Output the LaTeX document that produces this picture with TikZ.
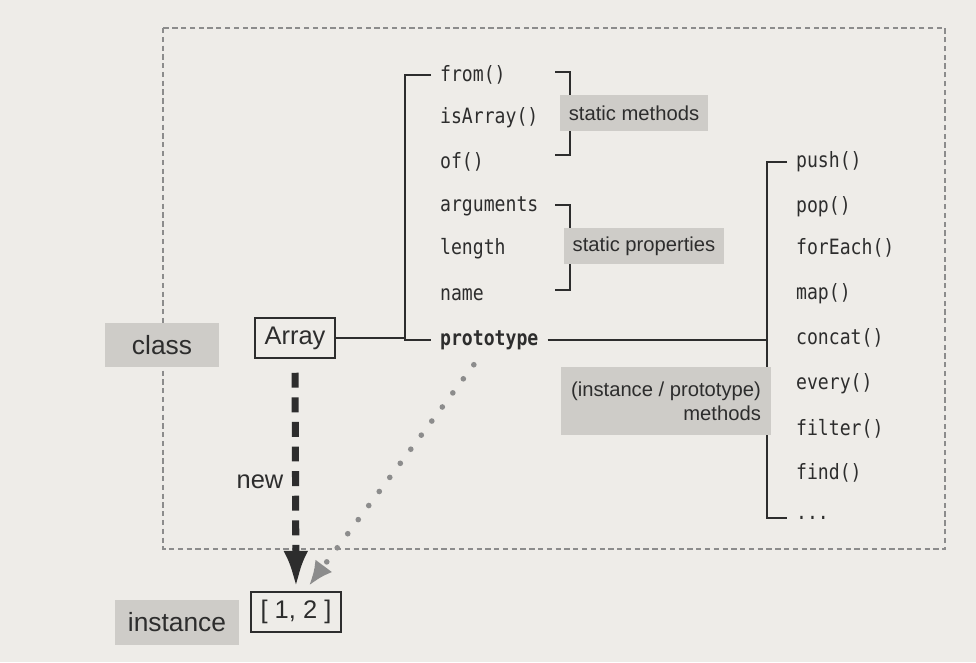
\documentclass[tikz,border=0pt]{standalone}
\usepackage{fontspec}
\setmainfont{Liberation Sans}
\setmonofont[FakeStretch=0.86]{DejaVu Sans Mono}
\usetikzlibrary{arrows.meta,positioning}
\definecolor{paper}{RGB}{238,236,232}
\definecolor{labelgray}{RGB}{206,204,200}
\definecolor{ink}{RGB}{45,45,45}
\definecolor{dotgray}{RGB}{140,140,140}

\begin{document}
\begin{tikzpicture}[
      x=0.02cm, y=-0.02cm,
      member/.style={anchor=west, inner xsep=5pt, inner ysep=2pt, text=ink, font=\fontsize{12}{14}\selectfont\ttfamily},
      tag/.style={fill=labelgray, text=ink, inner xsep=5pt, minimum height=.74cm, font=\fontsize{11.5}{13.5}\selectfont},
      side/.style={fill=labelgray, text=ink, minimum height=.9cm, font=\fontsize{15}{17}\selectfont},
      box/.style={draw=ink, line width=.8pt, text=ink, inner xsep=5.5pt, minimum height=.8cm, font=\fontsize{14.5}{16}\selectfont},
      bracket/.style={draw=ink, line width=.8pt},
      frame/.style={draw=dotgray, line width=.6pt, dash pattern=on 3pt off 2pt}
    ]
      \fill[paper] (0,0) rectangle (976,662);
      \useasboundingbox (0,0) rectangle (976,662);
      \draw[frame] (163,28) rectangle (945,549);

      % class side
      \node[side, minimum width=2.3cm] (classlbl) at (162,345) {class};
      \node[box] (arr) at (295,338) {Array};

      % static members
      \node[member] (from) at (431,75) {from()};
      \node[member] (isarray) at (431,118) {isArray()};
      \node[member] (of) at (431,162) {of()};
      \node[member] (args) at (431,206) {arguments};
      \node[member] (len) at (431,249) {length};
      \node[member] (name) at (431,295) {name};
      \node[member, font=\fontsize{12}{14}\selectfont\ttfamily\bfseries] (proto) at (431,340) {prototype};

      % prototype members
      \node[member] (push) at (787,162) {push()};
      \node[member] (pop) at (787,207) {pop()};
      \node[member] (foreach) at (787,248) {forEach()};
      \node[member] (map) at (787,294) {map()};
      \node[member] (concat) at (787,338) {concat()};
      \node[member] (every) at (787,384) {every()};
      \node[member] (filter) at (787,429) {filter()};
      \node[member] (find) at (787,473) {find()};
      \node[member] (more) at (787,518) {...};

      % brackets
      \coordinate (lbr) at (405,0);
      \coordinate (rbr) at (767,0);
      \draw[bracket] (arr.east) -- (arr.east -| lbr);
      \draw[bracket] (from.west) -- (from.west -| lbr) |- (proto.west);
      \draw[bracket] (555,72) -| (570,155) -- (555,155);
      \draw[bracket] (555,205) -| (570,290) -- (555,290);
      \draw[bracket] (proto.east) -- (proto.east -| rbr);
      \draw[bracket] (push.west) -- (push.west -| rbr) |- (more.west);

      % labels over the brackets
      \node[tag] (smeth) at (634,113) {static methods};
      \node[tag] (sprop) at (644,246) {static properties};
      \node[tag, align=right, inner xsep=5.5pt, minimum height=1.36cm] (imeth) at (666,401) {(instance / prototype)\\methods};

      % instance side
      \node[side, minimum width=2.5cm] (instlbl) at (177,622) {instance};
      \node[box] (inst) at (296,612) {[ 1, 2 ]};
      \node[text=ink, font=\fontsize{14.5}{16}\selectfont] (newlbl) at (260,482) {new};

      \draw[draw=ink, line width=4pt, dash pattern=on 8.5pt off 5.5pt, shorten <=8pt, shorten >=2pt, -{Latex[length=21pt, width=14pt]}] (arr.south) -- (inst.north);
      \draw[draw=dotgray, line width=3.2pt, line cap=round, dash pattern=on 0pt off 10pt, shorten <=8pt, shorten >=4pt, -{Latex[length=14pt, width=12pt]}] ([xshift=-4pt]proto.south) -- ([xshift=5pt]inst.north);
    \end{tikzpicture}
\end{document}
